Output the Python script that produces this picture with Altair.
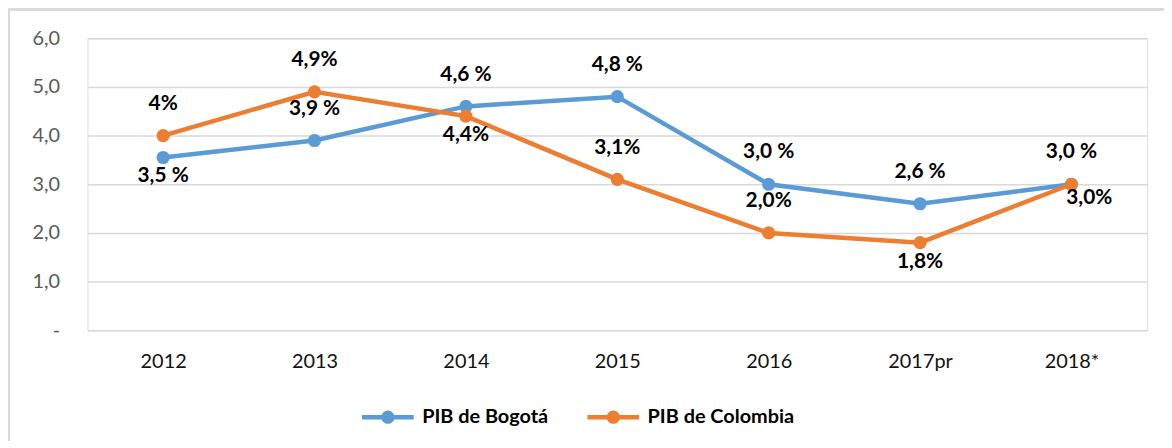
import altair as alt
import pandas as pd

years = ["2012", "2013", "2014", "2015", "2016", "2017pr", "2018*"]
bogota = [3.55, 3.9, 4.6, 4.8, 3.0, 2.6, 3.0]
colombia = [4.0, 4.9, 4.4, 3.1, 2.0, 1.8, 3.0]
bogota_labels = ["3,5 %", "3,9 %", "4,6 %", "4,8 %", "3,0 %", "2,6 %", "3,0 %"]
colombia_labels = ["4%", "4,9%", "4,4%", "3,1%", "2,0%", "1,8%", "3,0%"]
bogota_place = ["below", "above", "above", "above", "above", "above", "above"]
colombia_place = ["above", "above", "below", "above", "above", "below", "belowright"]
series = ["PIB de Bogotá", "PIB de Colombia"]
colors = ["#5B9BD5", "#ED7D31"]

rows = []
for i, y in enumerate(years):
    rows.append({"year": y, "series": series[0], "value": bogota[i],
                 "label": bogota_labels[i], "place": bogota_place[i], "order": 0})
for i, y in enumerate(years):
    rows.append({"year": y, "series": series[1], "value": colombia[i],
                 "label": colombia_labels[i], "place": colombia_place[i], "order": 1})
df = pd.DataFrame(rows)

FONT = "Lato"

x = alt.X("year:N", sort=years, title=None,
          scale=alt.Scale(paddingOuter=0.5, paddingInner=0),
          axis=alt.Axis(labelAngle=0, labelFont=FONT, labelFontSize=20,
                        labelColor="#111111", labelPadding=21, ticks=False,
                        domain=False, grid=False))
y = alt.Y("value:Q", title=None,
          scale=alt.Scale(domain=[0, 6], nice=False),
          axis=alt.Axis(values=[0, 1, 2, 3, 4, 5, 6], labelFont=FONT,
                        labelFontSize=20, labelColor="#595959", labelPadding=28,
                        ticks=False, domain=False, gridColor="#D9D9D9",
                        gridWidth=1.5,
                        labelExpr="datum.value == 0 ? '-\u00a0\u00a0\u00a0\u00a0\u00a0\u00a0\u00a0\u00a0\u00a0' : replace(format(datum.value, '.1f'), '.', ',')"))

color_scale = alt.Scale(domain=series, range=colors)

base = alt.Chart(df)

# line + marker symbol: a horizontal stroke with two concentric rings forming a dot
sym_path = ("M -1 0 L 1 0 "
            "M -0.09 0 A 0.09 0.09 0 1 0 0.09 0 A 0.09 0.09 0 1 0 -0.09 0 "
            "M -0.17 0 A 0.17 0.17 0 1 0 0.17 0 A 0.17 0.17 0 1 0 -0.17 0")

lines = base.mark_line(strokeWidth=4.5).encode(
    x=x, y=y,
    color=alt.Color("series:N", scale=color_scale,
                    legend=alt.Legend(title=None, orient="none", direction="horizontal",
                                      legendX=274, legendY=353,
                                      symbolType=sym_path, symbolSize=2704,
                                      symbolStrokeWidth=4.5, labelFont=FONT,
                                      labelFontSize=20, labelFontWeight="bold",
                                      labelColor="#000000", labelOffset=6,
                                      columnPadding=30, symbolOpacity=1)),
    order=alt.Order("order:Q"),
    detail="series:N",
)

points = base.mark_circle(size=175, opacity=1).encode(
    x=x, y=y,
    color=alt.Color("series:N", scale=color_scale, legend=None),
    order=alt.Order("order:Q"),
)

def labels(place, dx, dy):
    return base.transform_filter(alt.datum.place == place).mark_text(
        font=FONT, fontSize=21, fontWeight="bold", color="#000000",
        baseline="middle", align="center", dx=dx, dy=dy
    ).encode(x=x, y=y, text="label:N")

frame = alt.Chart(df).mark_rect(fill=None, stroke="#D9D9D9", strokeWidth=1.5).encode(
    x=alt.value(-79), x2=alt.value(1300), y=alt.value(-29), y2=alt.value(600)
)

chart = alt.layer(
    frame, lines, points,
    labels("above", 0, -32), labels("below", 0, 19), labels("belowright", 18, 14),
).properties(
    width=1067, height=294,
    autosize=alt.AutoSizeParams(type="none"),
    padding={"left": 80, "top": 29, "right": 17, "bottom": 110},
).configure_view(stroke=None).configure(background="white")

chart.save("out.html", embed_options={"renderer": "svg", "actions": False})
